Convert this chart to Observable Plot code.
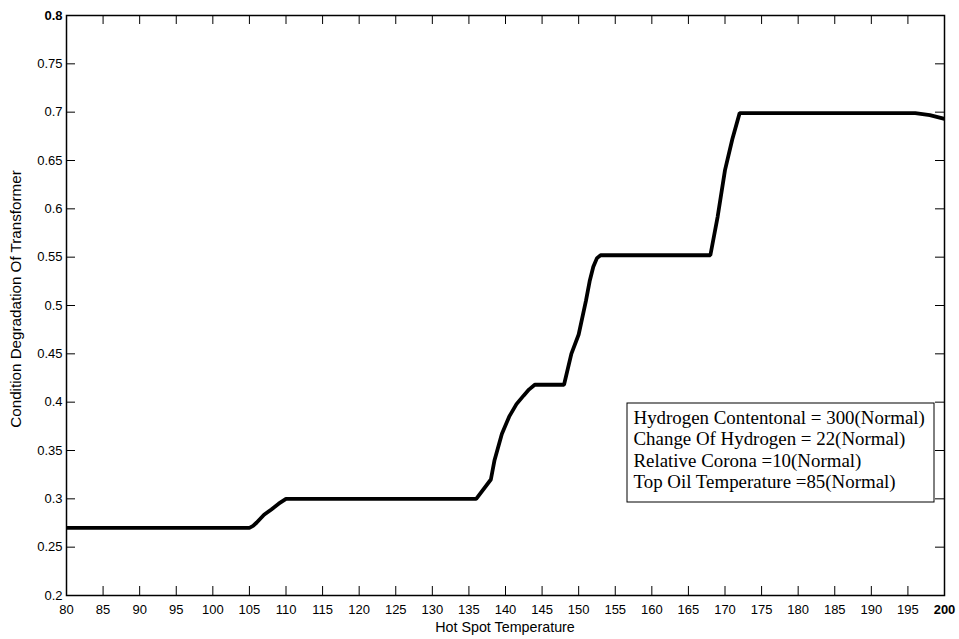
<!DOCTYPE html>
<html>
<head>
<meta charset="utf-8">
<script src="https://cdn.jsdelivr.net/npm/d3@7"></script>
<script src="https://cdn.jsdelivr.net/npm/@observablehq/plot@0.6"></script>
<style>
  html, body { margin: 0; padding: 0; background: #fff; }
  #chart svg { display: block; }
</style>
</head>
<body>
<div id="chart"></div>
<script>
// Hot spot temperature (x) and condition degradation (y)
const hotSpot = [80, 105, 105.5, 106, 107, 108, 109, 110, 136, 138, 138.5, 139.5, 140.5, 141.5, 142.5, 143.2, 144, 148, 149, 150, 151, 151.5, 152, 152.5, 153, 168, 169, 170, 171, 172, 196, 198, 200];
const degradation = [0.27, 0.27, 0.272, 0.2755, 0.2835, 0.289, 0.295, 0.300, 0.300, 0.32, 0.34, 0.367, 0.385, 0.398, 0.407, 0.413, 0.418, 0.418, 0.45, 0.47, 0.505, 0.525, 0.54, 0.549, 0.552, 0.552, 0.592, 0.64, 0.672, 0.699, 0.699, 0.697, 0.693];

const xTicks = [80, 85, 90, 95, 100, 105, 110, 115, 120, 125, 130, 135, 140, 145, 150, 155, 160, 165, 170, 175, 180, 185, 190, 195, 200];
const yTicks = [0.2, 0.25, 0.3, 0.35, 0.4, 0.45, 0.5, 0.55, 0.6, 0.65, 0.7, 0.75, 0.8];
const boldX = [200];
const boldY = [0.8];

const legendLines = [
  "Hydrogen Contentonal = 300(Normal)",
  "Change Of Hydrogen = 22(Normal)",
  "Relative Corona =10(Normal)",
  "Top Oil Temperature =85(Normal)"
];

const xLabel = "Hot Spot Temperature";
const yLabel = "Condition Degradation Of Transformer";

const data = hotSpot.map((x, i) => ({x, y: degradation[i]}));

const W = 959, H = 639;
const mL = 66, mR = 15, mT = 15, mB = 44;
const fw = W - mL - mR, fh = H - mT - mB;
const tickLen = 9;
const sans = "'Liberation Sans', Arial, sans-serif";

const fmtY = d => String(+d.toFixed(2));

const chart = Plot.plot({
  width: W,
  height: H,
  marginLeft: mL,
  marginRight: mR,
  marginTop: mT,
  marginBottom: mB,
  style: {fontFamily: sans, fontSize: "13px", background: "#fff", color: "#000"},
  x: {domain: [80, 200], label: null},
  y: {domain: [0.2, 0.8], label: null},
  marks: [
    // inward ticks on all four sides
    Plot.tickX(xTicks, {x: d => d, insetTop: fh - tickLen, stroke: "#000", strokeWidth: 1}),
    Plot.tickX(xTicks, {x: d => d, insetBottom: fh - tickLen, stroke: "#000", strokeWidth: 1}),
    Plot.tickY(yTicks, {y: d => d, insetRight: fw - tickLen, stroke: "#000", strokeWidth: 1}),
    Plot.tickY(yTicks, {y: d => d, insetLeft: fw - tickLen, stroke: "#000", strokeWidth: 1}),
    Plot.frame({stroke: "#000", strokeWidth: 1.5}),
    Plot.axisX(xTicks.filter(d => !boldX.includes(d)), {anchor: "bottom", tickSize: 0, tickPadding: 9, label: null, fontSize: 13}),
    Plot.axisX(boldX, {anchor: "bottom", tickSize: 0, tickPadding: 9, label: null, fontSize: 13, fontWeight: "bold"}),
    Plot.axisY(yTicks.filter(d => !boldY.includes(d)), {anchor: "left", tickSize: 0, tickPadding: 4, label: null, tickFormat: fmtY, fontSize: 13}),
    Plot.axisY(boldY, {anchor: "left", tickSize: 0, tickPadding: 4, label: null, tickFormat: fmtY, fontSize: 13, fontWeight: "bold"}),
    Plot.line(data, {x: "x", y: "y", stroke: "#000", strokeWidth: 3.8, strokeLinejoin: "miter", strokeLinecap: "butt"})
  ]
});

const svg = d3.select(chart);
// axis titles as real text
svg.append("text")
  .attr("x", mL + fw / 2).attr("y", H - 7)
  .attr("text-anchor", "middle")
  .attr("font-family", sans).attr("font-size", 14.3).attr("fill", "#000")
  .text(xLabel);
svg.append("text")
  .attr("transform", `translate(${21},${mT + fh / 2 - 6}) rotate(-90)`)
  .attr("text-anchor", "middle")
  .attr("font-family", sans).attr("font-size", 15.2).attr("fill", "#000")
  .text(yLabel);

// legend box with text block (inside the plot, lower right)
const box = {x: 627, y: 403, w: 307, h: 99};
const lg = svg.append("g").attr("text-anchor", "start");
lg.append("rect")
  .attr("x", box.x).attr("y", box.y).attr("width", box.w).attr("height", box.h)
  .attr("fill", "#fff").attr("stroke", "#000").attr("stroke-width", 1);
lg.selectAll("text.leg").data(legendLines).join("text")
  .attr("class", "leg")
  .attr("x", box.x + 6.5)
  .attr("y", (d, i) => box.y + 21 + i * 21.3)
  .attr("text-anchor", "start")
  .attr("font-family", "'Liberation Serif', 'Times New Roman', serif")
  .attr("font-size", 18.9)
  .attr("fill", "#000")
  .text(d => d);

document.getElementById("chart").appendChild(chart);
</script>
</body>
</html>
